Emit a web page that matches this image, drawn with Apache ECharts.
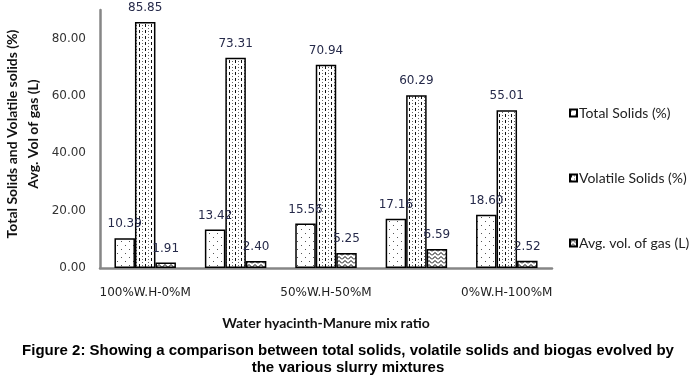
<!DOCTYPE html>
<html>
<head>
<meta charset="utf-8">
<script src="https://cdn.jsdelivr.net/npm/echarts@6/dist/echarts.min.js"></script>
<style>
html,body{margin:0;padding:0;background:#fff;}
#chart{width:693px;height:381px;}
</style>
</head>
<body>
<div id="chart"></div>
<script>
const categories = ['100%W.H-0%M', '75%W.H-25%M', '50%W.H-50%M', '25%W.H-75%M', '0%W.H-100%M'];
const totalSolids = [10.39, 13.42, 15.56, 17.16, 18.60];
const volatileSolids = [85.85, 73.31, 70.94, 60.29, 55.01];
const gasVolume = [1.91, 2.40, 5.25, 6.59, 2.52];
const seriesNames = ['Total Solids (%)', 'Volatile Solids (%)', 'Avg. vol. of gas (L)'];
const yTitle = 'Total Solids and Volatile solids (%)\nAvg. Vol of gas (L)';
const xTitle = 'Water hyacinth-Manure mix ratio';
const caption = 'Figure 2: Showing a comparison between total solids, volatile solids and biogas evolved by\nthe various slurry mixtures';

function pattern(kind) {
  const c = document.createElement('canvas');
  const ctx = c.getContext('2d');
  if (kind === 'ts') {
    c.width = 8; c.height = 8;
    ctx.fillStyle = '#fff'; ctx.fillRect(0, 0, 8, 8);
    ctx.fillStyle = '#555';
    ctx.fillRect(1, 1, 1, 1); ctx.fillRect(5, 5, 1, 1);
  } else if (kind === 'vs') {
    c.width = 6; c.height = 6;
    ctx.fillStyle = '#fff'; ctx.fillRect(0, 0, 6, 6);
    ctx.fillStyle = '#111';
    ctx.fillRect(1, 0, 1, 3);
    ctx.fillStyle = '#666';
    ctx.fillRect(4, 1, 1, 1); ctx.fillRect(4, 4, 1, 1);
  } else {
    c.width = 6; c.height = 4;
    ctx.fillStyle = '#fff'; ctx.fillRect(0, 0, 6, 4);
    ctx.strokeStyle = '#000'; ctx.lineWidth = 1;
    ctx.beginPath();
    ctx.moveTo(0, 3.5); ctx.lineTo(3, 0.5); ctx.lineTo(6, 3.5);
    ctx.stroke();
  }
  return { image: c, repeat: 'repeat' };
}

const patterns = [pattern('ts'), pattern('vs'), pattern('gas')];
const dataSets = [totalSolids, volatileSolids, gasVolume];

const chart = echarts.init(document.getElementById('chart'), null, { renderer: 'canvas' });
chart.setOption({
  animation: false,
  backgroundColor: '#fff',
  grid: { left: 100, right: 141, top: 10, bottom: 113 },
  legend: {
    orient: 'vertical',
    left: 564,
    top: 101,
    itemWidth: 7,
    itemHeight: 7,
    itemGap: 51,
    icon: 'rect',
    textStyle: { fontFamily: 'Lato', fontSize: 14, color: '#222', lineHeight: 14, padding: [0, 0, 0, -3] },
    data: seriesNames
  },
  xAxis: {
    type: 'category',
    data: categories,
    axisLine: { lineStyle: { color: '#868686', width: 2.5 } },
    axisTick: { show: false },
    axisLabel: { interval: 1, margin: 19, fontFamily: 'DejaVu Sans', fontSize: 12, color: '#222' },
    name: xTitle,
    nameLocation: 'middle',
    nameGap: 48,
    nameTextStyle: { fontFamily: 'Lato', fontWeight: 'bold', fontSize: 14, color: '#111' }
  },
  yAxis: {
    type: 'value',
    min: 0,
    max: 90,
    interval: 20,
    axisLine: { show: true, lineStyle: { color: '#868686', width: 2.5 } },
    axisTick: { show: false },
    splitLine: { show: false },
    axisLabel: {
      margin: 14,
      fontFamily: 'DejaVu Sans', fontSize: 12, color: '#333',
      formatter: function (v) { return v > 85 ? '' : v.toFixed(2); }
    }
  },
  graphic: [
    {
      type: 'text',
      x: 23, y: 134,
      rotation: Math.PI / 2,
      style: {
        text: yTitle,
        fontFamily: 'Lato', fontWeight: 'bold', fontSize: 14, lineHeight: 21,
        fill: '#111', align: 'center', verticalAlign: 'middle'
      }
    },
    {
      type: 'text',
      x: 348, y: 359,
      style: {
        text: caption,
        fontFamily: 'Liberation Sans', fontWeight: 'bold', fontSize: 15, lineHeight: 17,
        fill: '#000', align: 'center', verticalAlign: 'middle'
      }
    }
  ],
  series: seriesNames.map(function (name, i) {
    return {
      name: name,
      type: 'bar',
      data: dataSets[i],
      barGap: '0%',
      barCategoryGap: '32%',
      itemStyle: { color: patterns[i], borderColor: '#000', borderWidth: 1.5 },
      label: {
        show: true,
        position: 'top',
        distance: 8,
        fontFamily: 'DejaVu Sans',
        fontSize: 12,
        color: '#262a4a',
        formatter: function (p) { return p.value.toFixed(2); }
      }
    };
  })
});
</script>
</body>
</html>
